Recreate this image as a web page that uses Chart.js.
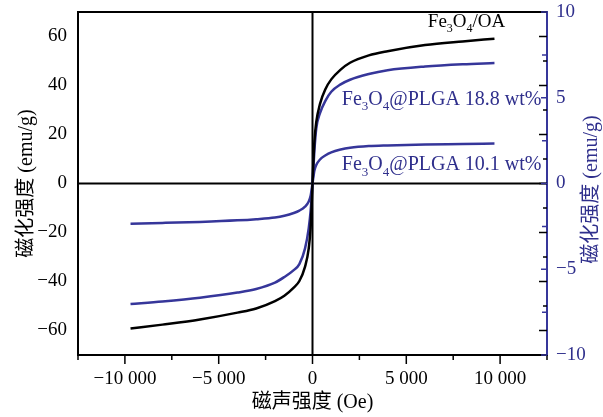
<!DOCTYPE html>
<html>
<head>
<meta charset="utf-8">
<script src="https://cdn.jsdelivr.net/npm/chart.js@4.4.1/dist/chart.umd.min.js"></script>
<style>
  html, body { margin: 0; padding: 0; background: #fff; }
  #wrap { width: 603px; height: 417px; }
</style>
</head>
<body>
<div id="wrap"><canvas id="mChart" width="603" height="417"></canvas></div>
<script>
// field (Oe) and magnetization readings
const fieldOe = [-9700, -8000, -6000, -4000, -3000, -2000, -1500, -1000, -700, -400, -200, -100, 0,
  100, 200, 400, 700, 1000, 1500, 2000, 3000, 4000, 6000, 8000, 9700];
const oaEmu = [-59.2, -57.6, -55.5, -52.7, -51.0, -48.0, -45.8, -42.5, -39.8, -34.0, -26.5, -18.0, 0,
  17.0, 25.0, 32.5, 38.7, 42.5, 46.5, 49.3, 52.3, 54.0, 56.5, 58.0, 59.1];
const plga188Emu = [-7.03, -6.88, -6.66, -6.36, -6.15, -5.78, -5.45, -5.05, -4.70, -3.80, -2.60, -1.60, 0,
  1.90, 3.20, 4.10, 4.85, 5.35, 5.78, 6.05, 6.38, 6.60, 6.82, 6.95, 7.02];
const plga101Emu = [-2.34, -2.30, -2.24, -2.15, -2.08, -1.98, -1.88, -1.72, -1.58, -1.35, -1.05, -0.72, 0,
  0.75, 1.08, 1.40, 1.65, 1.82, 1.98, 2.08, 2.18, 2.22, 2.27, 2.30, 2.33];

const xTickValues = [-10000, -5000, 0, 5000, 10000];
const xTickLabels = ['\u221210 000', '\u22125 000', '0', '5 000', '10 000'];
const xMinorTicks = [-12500, -7500, -2500, 2500, 7500, 12500];
const yTickValues = [-60, -40, -20, 0, 20, 40, 60];
const yTickLabels = ['\u221260', '\u221240', '\u221220', '0', '20', '40', '60'];
const yMinorTicks = [-70, -50, -30, -10, 10, 30, 50, 70];
const y2TickValues = [-10, -5, 0, 5, 10];
const y2TickLabels = ['\u221210', '\u22125', '0', '5', '10'];
const y2MinorTicks = [-7.5, -2.5, 2.5, 7.5];

const BLUE = '#36369a';
const BLUE_TEXT = '#2f2f8c';
const SERIF = "'Liberation Serif', 'Times New Roman', 'Noto Sans CJK SC', serif";

function toPoints(ys) {
  return fieldOe.map((x, i) => ({ x, y: ys[i] }));
}

// curve labels, anchored in data units
const curveLabels = [
  { axis: 'y', x: 6150, y: 64, color: '#000', size: 19,
    parts: [['Fe', 0], ['3', 1], ['O', 0], ['4', 1], ['/OA', 0]] },
  { axis: 'y2', x: 1560, y: 4.6, color: BLUE_TEXT, size: 20,
    parts: [['Fe', 0], ['3', 1], ['O', 0], ['4', 1], ['@PLGA 18.8 wt%', 0]] },
  { axis: 'y2', x: 1560, y: 0.76, color: BLUE_TEXT, size: 20,
    parts: [['Fe', 0], ['3', 1], ['O', 0], ['4', 1], ['@PLGA 10.1 wt%', 0]] }
];

function drawTickSet(ctx, scale, values, len, dir, color) {
  const area = scale.chart.chartArea;
  ctx.strokeStyle = color;
  ctx.lineWidth = 1.5;
  ctx.beginPath();
  values.forEach((v) => {
    const p = scale.getPixelForValue(v);
    if (scale.isHorizontal()) {
      ctx.moveTo(p, area.bottom);
      ctx.lineTo(p, area.bottom + len);
    } else {
      const x0 = dir < 0 ? area.left : area.right;
      ctx.moveTo(x0, p);
      ctx.lineTo(x0 + dir * len, p);
    }
  });
  ctx.stroke();
}

function fixBox(w, h) {
  return (s) => {
    if (w) s.width = w;
    if (h) s.height = h;
    s.paddingTop = 0;
    s.paddingBottom = 0;
    s.paddingLeft = 0;
    s.paddingRight = 0;
  };
}

const framePlugin = {
  id: 'frame',
  beforeDatasetsDraw(chart) {
    const { ctx, chartArea: a, scales } = chart;
    ctx.save();
    ctx.strokeStyle = '#000';
    ctx.lineWidth = 2;
    const x0 = scales.x.getPixelForValue(0);
    const y0 = scales.y.getPixelForValue(0);
    ctx.beginPath();
    ctx.moveTo(x0, a.top);
    ctx.lineTo(x0, a.bottom);
    ctx.moveTo(a.left, y0);
    ctx.lineTo(a.right, y0);
    ctx.stroke();
    ctx.restore();
  },
  afterDraw(chart) {
    const { ctx, chartArea: a, scales } = chart;
    ctx.save();
    // top border
    ctx.strokeStyle = '#000';
    ctx.lineWidth = 2;
    ctx.beginPath();
    ctx.moveTo(a.left - 1, a.top);
    ctx.lineTo(a.right, a.top);
    ctx.stroke();

    drawTickSet(ctx, scales.x, xTickValues, 9, 1, '#000');
    drawTickSet(ctx, scales.x, xMinorTicks, 5, 1, '#000');
    drawTickSet(ctx, scales.y, yTickValues, -8, 1, '#000');
    drawTickSet(ctx, scales.y, yMinorTicks, -4, 1, '#000');
    drawTickSet(ctx, scales.y2, y2TickValues, -6, 1, BLUE);
    drawTickSet(ctx, scales.y2, y2MinorTicks, -5, 1, BLUE);

    // right axis title (reads bottom to top like the left one)
    ctx.fillStyle = BLUE_TEXT;
    ctx.font = '20px ' + SERIF;
    ctx.textAlign = 'center';
    ctx.textBaseline = 'middle';
    ctx.translate(scales.y2.right - 11, (a.top + a.bottom) / 2 + 6);
    ctx.rotate(-Math.PI / 2);
    ctx.fillText('磁化强度 (emu/g)', 0, 0);
    ctx.restore();

    // curve labels with subscripts
    curveLabels.forEach((lab) => {
      let x = scales.x.getPixelForValue(lab.x);
      const y = scales[lab.axis].getPixelForValue(lab.y);
      ctx.save();
      ctx.fillStyle = lab.color;
      ctx.textAlign = 'left';
      ctx.textBaseline = 'alphabetic';
      lab.parts.forEach(([txt, sub]) => {
        const size = sub ? Math.round(lab.size * 0.65) : lab.size;
        ctx.font = size + 'px ' + SERIF;
        ctx.fillText(txt, x, sub ? y + lab.size * 0.28 : y);
        x += ctx.measureText(txt).width;
      });
      ctx.restore();
    });
  }
};

const ctx = document.getElementById('mChart');
new Chart(ctx, {
  type: 'line',
  data: {
    datasets: [
      {
        label: 'Fe3O4/OA',
        data: toPoints(oaEmu),
        yAxisID: 'y',
        borderColor: '#000',
        borderWidth: 2.5,
        pointRadius: 0,
        cubicInterpolationMode: 'monotone'
      },
      {
        label: 'Fe3O4@PLGA 18.8 wt%',
        data: toPoints(plga188Emu),
        yAxisID: 'y2',
        borderColor: BLUE,
        borderWidth: 2.5,
        pointRadius: 0,
        cubicInterpolationMode: 'monotone'
      },
      {
        label: 'Fe3O4@PLGA 10.1 wt%',
        data: toPoints(plga101Emu),
        yAxisID: 'y2',
        borderColor: BLUE,
        borderWidth: 2.5,
        pointRadius: 0,
        cubicInterpolationMode: 'monotone'
      }
    ]
  },
  plugins: [framePlugin],
  options: {
    responsive: false,
    animation: false,
    devicePixelRatio: 1,
    layout: { padding: { top: 12, left: 0, right: 0, bottom: 0 } },
    plugins: {
      legend: { display: false },
      tooltip: { enabled: false }
    },
    scales: {
      x: {
        type: 'linear',
        min: -12500,
        max: 12500,
        afterFit: fixBox(0, 62),
        afterBuildTicks: (s) => { s.ticks = xTickValues.map((v) => ({ value: v })); },
        grid: { display: false, drawTicks: false },
        border: { display: true, color: '#000', width: 2 },
        ticks: {
          padding: 13,
          color: '#000',
          maxRotation: 0,
          font: { family: SERIF, size: 19 },
          callback: (v, i) => xTickLabels[i]
        },
        title: {
          display: true,
          text: '磁声强度 (Oe)',
          color: '#000',
          padding: { top: 0, bottom: 2 },
          font: { family: SERIF, size: 20 }
        }
      },
      y: {
        type: 'linear',
        position: 'left',
        min: -70,
        max: 70,
        afterFit: fixBox(78, 0),
        afterBuildTicks: (s) => { s.ticks = yTickValues.map((v) => ({ value: v })); },
        grid: { display: false, drawTicks: false },
        border: { display: true, color: '#000', width: 2 },
        ticks: {
          padding: 11,
          color: '#000',
          font: { family: SERIF, size: 19 },
          callback: (v, i) => yTickLabels[i]
        },
        title: {
          display: true,
          text: '磁化强度 (emu/g)',
          color: '#000',
          padding: { top: 15, bottom: 0 },
          font: { family: SERIF, size: 20 }
        }
      },
      y2: {
        type: 'linear',
        position: 'right',
        min: -10,
        max: 10,
        afterFit: fixBox(56, 0),
        afterBuildTicks: (s) => { s.ticks = y2TickValues.map((v) => ({ value: v })); },
        grid: { display: false, drawTicks: false },
        border: { display: true, color: BLUE, width: 2 },
        ticks: {
          padding: 9,
          color: BLUE_TEXT,
          font: { family: SERIF, size: 19 },
          callback: (v, i) => y2TickLabels[i]
        }
      }
    }
  }
});
</script>
</body>
</html>
